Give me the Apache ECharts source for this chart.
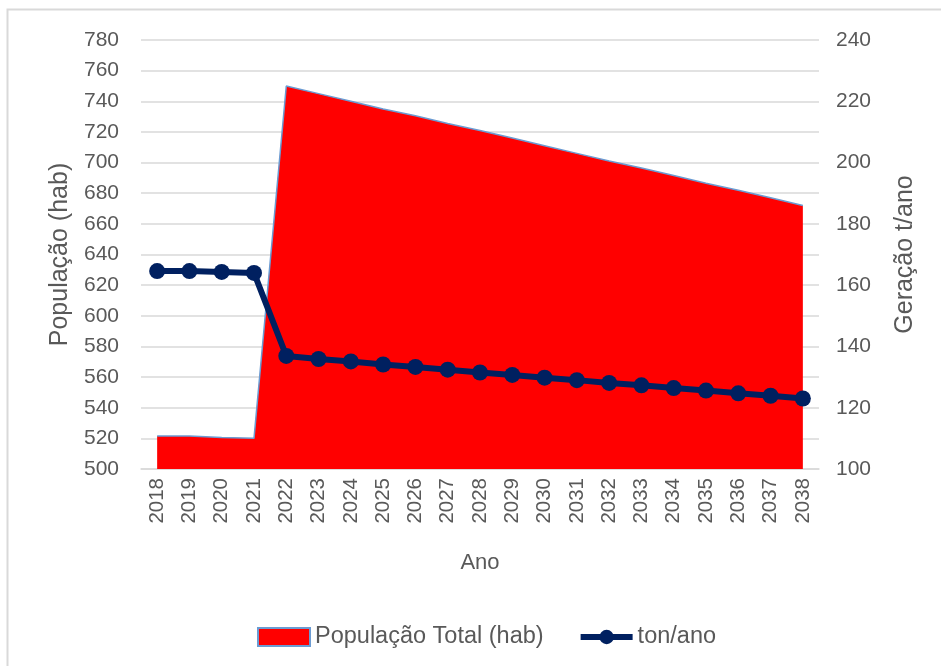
<!DOCTYPE html>
<html>
<head>
<meta charset="utf-8">
<script src="https://cdn.jsdelivr.net/npm/echarts@6/dist/echarts.min.js"></script>
<style>
  html, body { margin: 0; padding: 0; background: #fff; }
  #chart { width: 941px; height: 666px; }
</style>
</head>
<body>
<div id="chart"></div>
<script>
// Anos do horizonte de projeção
const anos = ['2018','2019','2020','2021','2022','2023','2024','2025','2026','2027',
  '2028','2029','2030','2031','2032','2033','2034','2035','2036','2037','2038'];

// População total (hab) – eixo esquerdo
const populacao = [521.5, 521.5, 520.5, 520, 750, 745, 740, 735, 730.5, 725.5,
  721, 716, 711, 706, 701, 696.5, 691.5, 686.5, 682, 677, 672];

// Geração de resíduos (ton/ano) – eixo direito
const tonAno = [164.6, 164.6, 164.3, 164.0, 136.9, 135.9, 135.1, 134.1, 133.3, 132.4,
  131.5, 130.7, 129.8, 129.0, 128.1, 127.3, 126.4, 125.6, 124.7, 123.9, 123.0];

const txt = '#595959';
const font = 'Liberation Sans, Arial, sans-serif';

const chart = echarts.init(document.getElementById('chart'));
chart.setOption({
  animation: false,
  backgroundColor: '#fff',
  textStyle: { fontFamily: font },
  graphic: [{
    type: 'rect',
    shape: { x: 7.5, y: 9.5, width: 960, height: 680 },
    style: { fill: 'none', stroke: '#d9d9d9', lineWidth: 2 },
    silent: true
  }],
  grid: { left: 141, right: 122, top: 40, bottom: 197 },
  legend: {
    top: 620,
    left: 252,
    itemGap: 34,
    itemWidth: 52,
    itemHeight: 18,
    textStyle: { color: txt, fontSize: 23.5, fontFamily: font },
    data: [
      { name: 'População Total (hab)', icon: 'rect' },
      {
        name: 'ton/ano',
        lineStyle: { width: 6, color: '#002060' },
        itemStyle: { color: '#002060' }
      }
    ]
  },
  xAxis: {
    type: 'category',
    data: anos,
    boundaryGap: true,
    name: 'Ano',
    nameLocation: 'middle',
    nameGap: 83,
    nameTextStyle: { color: txt, fontSize: 22, fontFamily: font },
    axisLine: { lineStyle: { color: '#d9d9d9', width: 1.5 } },
    axisTick: { show: false },
    axisLabel: { rotate: 90, color: txt, fontSize: 20.5, fontFamily: font, margin: 9, interval: 0 }
  },
  yAxis: [{
    type: 'value',
    min: 500, max: 780, interval: 20,
    name: 'População (hab)',
    nameLocation: 'middle',
    nameGap: 67,
    nameRotate: 90,
    nameTextStyle: { color: txt, fontSize: 25, fontFamily: font },
    axisLine: { show: false },
    axisTick: { show: false },
    axisLabel: { color: txt, fontSize: 21, fontFamily: font, margin: 22 },
    splitLine: { lineStyle: { color: '#d9d9d9', width: 1.5 } }
  }, {
    type: 'value',
    min: 100, max: 240, interval: 20,
    name: 'Geração t/ano',
    nameLocation: 'middle',
    nameGap: 74,
    nameRotate: 90,
    nameTextStyle: { color: txt, fontSize: 25, fontFamily: font },
    axisLine: { show: false },
    axisTick: { show: false },
    axisLabel: { color: txt, fontSize: 21, fontFamily: font, margin: 17 },
    splitLine: { show: false }
  }],
  series: [{
    name: 'População Total (hab)',
    type: 'line',
    yAxisIndex: 0,
    data: populacao,
    symbol: 'none',
    color: '#ff0000',
    lineStyle: { color: '#6b9bd2', width: 1.5 },
    areaStyle: { color: '#ff0000', opacity: 1, origin: 'start' },
    itemStyle: { color: '#ff0000', borderColor: '#6b9bd2', borderWidth: 1.5 },
    z: 1
  }, {
    name: 'ton/ano',
    type: 'line',
    yAxisIndex: 1,
    data: tonAno,
    symbol: 'circle',
    symbolSize: 16,
    color: '#002060',
    lineStyle: { color: '#002060', width: 6 },
    itemStyle: { color: '#002060' },
    z: 3
  }]
});
</script>
</body>
</html>
